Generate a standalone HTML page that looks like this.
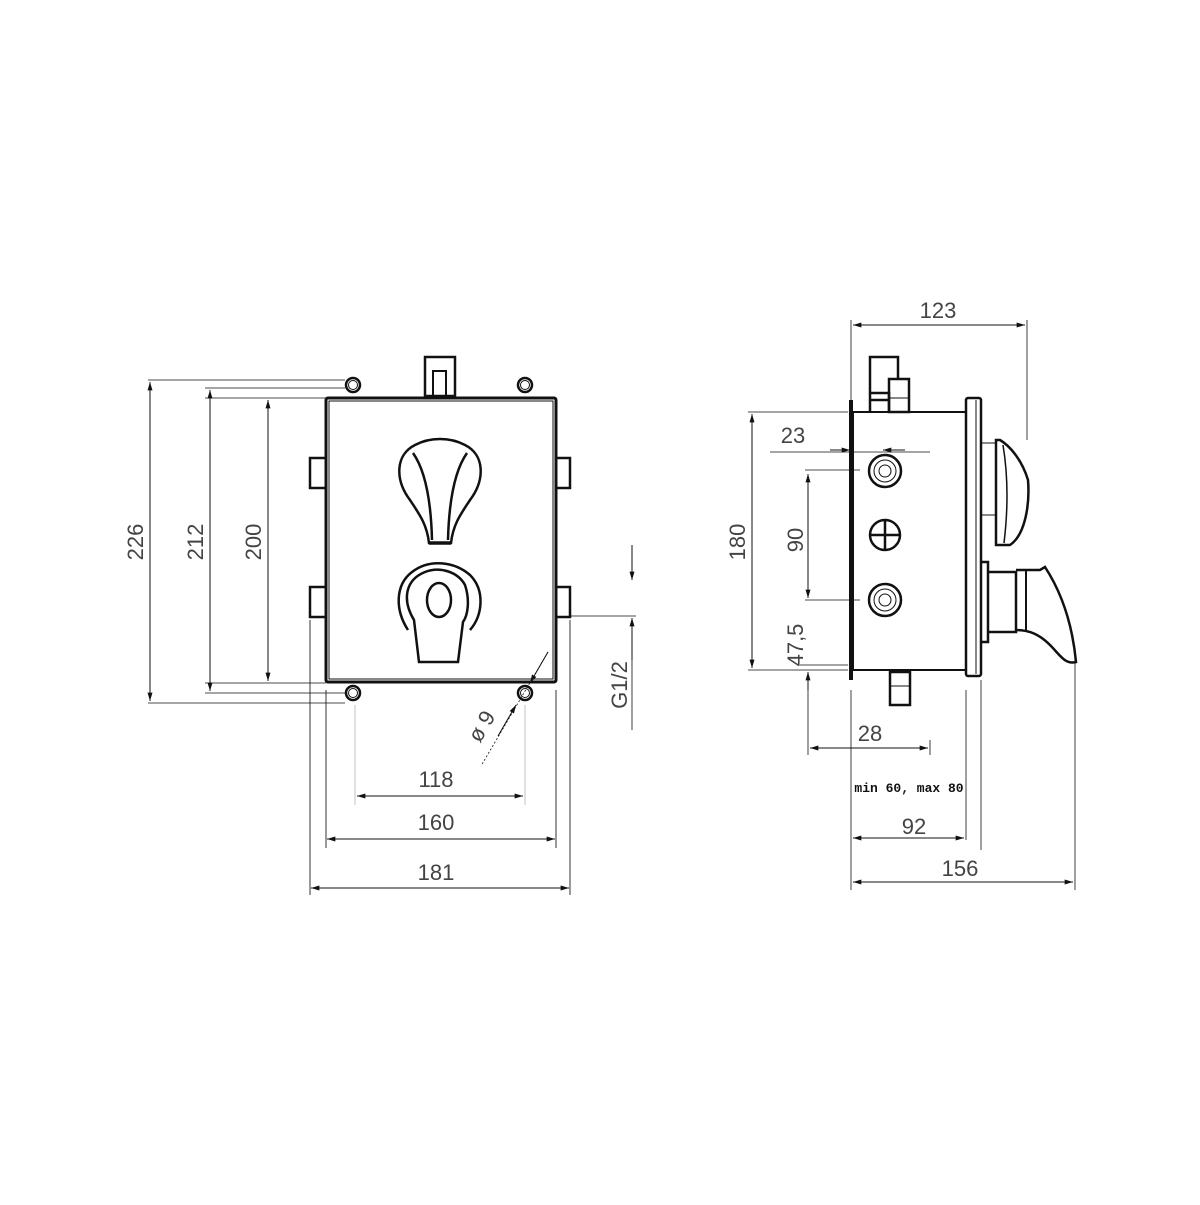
<!DOCTYPE html>
<html><head><style>html,body{margin:0;padding:0;background:#fff}</style></head><body>
<svg width="1200" height="1200" viewBox="0 0 1200 1200" xmlns="http://www.w3.org/2000/svg">
<defs>
<marker id="a" viewBox="0 0 10 6" refX="10" refY="3" markerWidth="12" markerHeight="5" orient="auto-start-reverse" markerUnits="userSpaceOnUse"><path d="M0,0 L10,3 L0,6 Z" fill="#111"/></marker>
</defs>
<g fill="none" stroke="#111" stroke-width="1">
<!-- LEFT VIEW extension lines -->
<path d="M148,380 H345 M205,388 H345 M205,398 H326 M264,398 H326 M148,703 H345 M205,693 H345 M264,683 H326 M205,683 H326" stroke-width="0.8"/>
<line x1="150" y1="382" x2="150" y2="701" marker-start="url(#a)" marker-end="url(#a)"/>
<line x1="210" y1="390" x2="210" y2="691" marker-start="url(#a)" marker-end="url(#a)"/>
<line x1="268" y1="400" x2="268" y2="681" marker-start="url(#a)" marker-end="url(#a)"/>
<path d="M310,620 V895 M326,690 V848 M556,690 V848 M570,620 V895 M355,705 V805 M525,705 V805" stroke-width="0.6" stroke="#999"/>
<path d="M310,620 V895 M326,690 V848 M556,690 V848 M570,620 V895" stroke-width="0.8"/>
<line x1="357" y1="796" x2="523" y2="796" marker-start="url(#a)" marker-end="url(#a)"/>
<line x1="327" y1="839" x2="555" y2="839" marker-start="url(#a)" marker-end="url(#a)"/>
<line x1="311" y1="888" x2="569" y2="888" marker-start="url(#a)" marker-end="url(#a)"/>
<path d="M570,616 H636 M632,545 V580 M632,730 V620" stroke-width="0.8"/>
<line x1="632" y1="545" x2="632" y2="580" marker-end="url(#a)"/>
<line x1="632" y1="660" x2="632" y2="618" marker-end="url(#a)"/>
<path d="M548,652 L481,766" stroke-dasharray="2,2" stroke-width="0.8"/>
<line x1="548" y1="652" x2="530" y2="683" marker-end="url(#a)"/>
<line x1="498" y1="736" x2="516" y2="705" marker-end="url(#a)"/>
<!-- body -->
<rect x="326" y="398" width="230" height="284" rx="2" stroke-width="3"/>
<rect x="329" y="401" width="224" height="278" stroke-width="1"/>
<rect x="425" y="357" width="30" height="39" stroke-width="2.5"/>
<rect x="433" y="371" width="13" height="25" stroke-width="2"/>
<g stroke-width="2.5">
<circle cx="353" cy="385" r="7"/><circle cx="525" cy="385" r="7"/>
<circle cx="353" cy="693" r="7"/><circle cx="525" cy="693" r="7"/>
</g>
<g stroke-width="1"><circle cx="353" cy="385" r="4.5"/><circle cx="525" cy="385" r="4.5"/><circle cx="353" cy="693" r="4.5"/><circle cx="525" cy="693" r="4.5"/></g>
<g stroke-width="2.5">
<path d="M326,458 H310 V488 H326 M326,587 H310 V617 H326 M556,458 H570 V488 H556 M556,587 H570 V617 H556"/>
</g>
<!-- top handle -->
<g stroke-width="2.5">
<path d="M429,543 C427,525 420,515 410,500 C395,480 395,455 415,445 C430,437 450,437 465,445 C485,455 485,480 470,500 C460,515 453,525 451,543 Z"/>
<path d="M413,453 C425,470 431,500 432,540 M467,453 C455,470 449,500 448,540"/>
<line x1="429" y1="543" x2="451" y2="543" stroke-width="3.5"/>
<!-- lower handle -->
<path d="M408,630 C395,610 395,585 412,572 C430,558 455,562 470,575 C485,590 483,615 470,630"/>
<path d="M419,662 L414,620 C402,600 405,580 425,572 C440,566 458,572 465,585 C470,600 468,615 463,622 L458,662 Z"/>
<ellipse cx="439" cy="600" rx="12" ry="17"/>
</g>
<!-- RIGHT VIEW -->
<path d="M851,320 V410 M1027,320 V440 M748,412 H848 M748,670 H848 M805,470 H860 M805,600 H860 M800,665 H848 M981,680 V850 M851,690 V890 M1075,650 V890 M966,690 V840 M808,690 V755 M930,740 V755 M770,452 H930" stroke-width="0.8"/>
<line x1="853" y1="325" x2="1025" y2="325" marker-start="url(#a)" marker-end="url(#a)"/>
<line x1="752" y1="414" x2="752" y2="668" marker-start="url(#a)" marker-end="url(#a)"/>
<line x1="808" y1="474" x2="808" y2="598" marker-start="url(#a)" marker-end="url(#a)"/>
<line x1="808" y1="672" x2="808" y2="690" marker-start="url(#a)"/>
<line x1="830" y1="450" x2="850" y2="450" marker-end="url(#a)"/>
<line x1="905" y1="450" x2="883" y2="450" marker-end="url(#a)"/>
<line x1="810" y1="748" x2="928" y2="748" marker-start="url(#a)" marker-end="url(#a)"/>
<line x1="853" y1="838" x2="964" y2="838" marker-start="url(#a)" marker-end="url(#a)"/>
<line x1="853" y1="882" x2="1073" y2="882" marker-start="url(#a)" marker-end="url(#a)"/>
<rect x="853" y="412" width="113" height="258" stroke-width="2"/>
<line x1="851" y1="400" x2="851" y2="680" stroke-width="4"/>
<rect x="966" y="398" width="15" height="278" rx="2" stroke-width="2.5"/>
<line x1="976" y1="400" x2="976" y2="674"/>
<path d="M870,412 V400 H889 V412 M870,400 V393 H889 V400 M870,393 V357 H898 V380" stroke-width="2.5"/>
<rect x="889" y="379" width="20" height="33" stroke-width="2.5"/>
<line x1="889" y1="398" x2="909" y2="398"/>
<rect x="890" y="672" width="20" height="33" stroke-width="2.5"/>
<line x1="890" y1="686" x2="910" y2="686"/>
<g stroke-width="2.5">
<circle cx="885" cy="471" r="16"/><circle cx="885" cy="600" r="16"/>
<circle cx="885" cy="535" r="15"/>
<path d="M885,520 V550 M870,535 H900"/>
</g>
<g stroke-width="1"><circle cx="885" cy="471" r="11"/><circle cx="885" cy="600" r="11"/><circle cx="885" cy="471" r="6"/><circle cx="885" cy="600" r="6"/></g>
<path d="M981,443 H996 M981,515 H996" />
<path d="M996,440 V545 H1010 C1025,535 1030,505 1028,480 C1022,460 1010,446 1000,440 Z" stroke-width="2.5"/>
<path d="M1003,445 C1008,475 1008,510 1004,543" stroke-width="1.5"/>
<path d="M981,562 H988 V642 H981" stroke-width="2.5"/>
<path d="M988,572 H1016 V632 H988" stroke-width="2.5"/>
<path d="M1016,570 H1040 L1045,567 C1060,590 1072,620 1076,662 C1065,665 1060,655 1050,645 C1040,635 1030,630 1016,630" stroke-width="2.5"/>
<line x1="1026" y1="570" x2="1026" y2="630" stroke-width="2"/>
</g>
<g font-family="'Liberation Sans Narrow','Liberation Sans',sans-serif" font-size="22" fill="#444" text-anchor="middle">
<text transform="translate(143,542) rotate(-90)">226</text>
<text transform="translate(203,542) rotate(-90)">212</text>
<text transform="translate(261,542) rotate(-90)">200</text>
<text x="436" y="787">118</text>
<text x="436" y="830">160</text>
<text x="436" y="880">181</text>
<text transform="translate(627,685) rotate(-90)">G1/2</text>
<text transform="translate(488,730) rotate(-60)">ø 9</text>
<text x="938" y="318">123</text>
<text transform="translate(745,542) rotate(-90)">180</text>
<text x="793" y="443">23</text>
<text transform="translate(803,540) rotate(-90)">90</text>
<text transform="translate(803,645) rotate(-90)">47,5</text>
<text x="870" y="741">28</text>
<text x="914" y="834">92</text>
<text x="960" y="876">156</text>
</g>
<text x="909" y="792" font-family="'Liberation Mono',monospace" font-size="13" font-weight="bold" fill="#111" text-anchor="middle">min 60, max 80</text>
</svg>
</body></html>
